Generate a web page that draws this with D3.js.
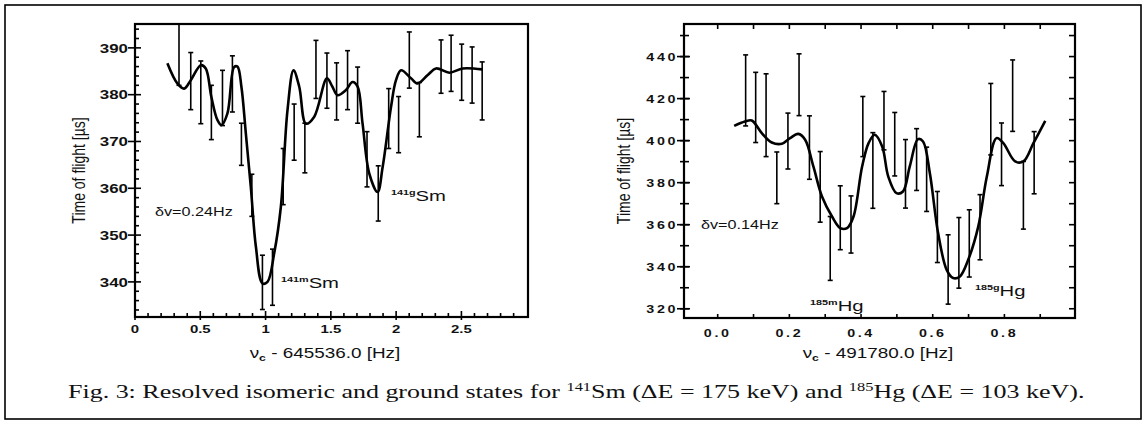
<!DOCTYPE html>
<html><head><meta charset="utf-8">
<script src="https://cdn.jsdelivr.net/npm/d3@7"></script>
<style>html,body{margin:0;padding:0;background:#fff;}svg{display:block;}</style>
</head><body>
<script>
// ---------- data ----------
const smX   = [0.337,0.427,0.504,0.585,0.670,0.746,0.815,0.895,0.976,1.053,1.135,1.219,1.301,1.386,1.470,1.544,1.628,1.705,1.777,1.863,1.943,2.019,2.101,2.178,2.344,2.421,2.502,2.582,2.659];
const smY   = [389,382.9,380.5,376.2,379.3,382.3,369.4,358.5,339.9,341,362.5,372,368.6,385.4,383,380.7,383.1,379.9,366.2,358.9,374.9,373.6,387.4,376.8,386,386.7,384.8,384.2,380.8];
const smErr = [7,6.1,6.7,5.8,5.9,6.0,4.5,4.5,5.8,6,6,6,5.3,6.2,5.9,6.1,6.3,6.0,5.9,5.9,6.4,6.0,6.0,5.8,5.7,6.0,6.0,6.0,6.2];
const smFitX = [0.248,0.324,0.376,0.427,0.504,0.542,0.585,0.631,0.662,0.708,0.759,0.785,0.815,0.849,0.887,0.926,0.976,1.015,1.066,1.117,1.168,1.214,1.258,1.309,1.373,1.470,1.510,1.551,1.616,1.666,1.705,1.743,1.794,1.858,1.897,1.961,1.999,2.038,2.114,2.165,2.242,2.306,2.408,2.510,2.659];
const smFitY = [386.7,382.4,381.3,383.1,386.3,385.6,379.5,374.6,373.5,376,385.9,386,381.7,371.7,360.3,347.5,339.7,340,346.1,356.0,376.7,385.2,381.7,373.8,375.3,383.5,381.8,379.9,381,382.7,381.7,373.8,363.2,359.2,364.6,377.4,383.1,385.2,383.5,382.4,384.2,385.6,384.7,385.6,385.4];

const hgX   = [0.078,0.106,0.135,0.165,0.196,0.227,0.256,0.286,0.314,0.342,0.372,0.405,0.433,0.464,0.494,0.524,0.555,0.583,0.613,0.643,0.673,0.702,0.732,0.762,0.792,0.823,0.853,0.883];
const hgY   = [423.9,415.8,412.1,382.3,399.8,426.6,396.7,378,348.7,363.3,360.1,406.7,385.8,409.5,398.3,384.2,391,381.6,358.9,338.7,346.6,351.1,358.8,410.2,393.5,421.4,374,389.5];
const hgErr = [16.9,16.7,19.7,12.3,13.3,14.7,15.1,16.8,15.2,15.2,13.6,14.3,18,13.9,15.1,16.3,14.7,15.3,16.9,16.5,16.8,16,15.5,17,14.9,17,16.1,14.8];
const hgFitX = [0.046,0.076,0.095,0.123,0.151,0.179,0.202,0.225,0.244,0.267,0.291,0.319,0.342,0.361,0.379,0.403,0.421,0.438,0.459,0.476,0.499,0.517,0.536,0.559,0.573,0.592,0.615,0.639,0.657,0.676,0.699,0.727,0.751,0.778,0.797,0.830,0.853,0.881,0.914];
const hgFitY = [407.0,409.1,409.6,403.6,399.1,398.5,401.2,403.2,400.4,387.7,373.4,363.9,358.4,358.4,363.9,387.7,398.8,402.8,397.2,382.9,375.0,375.8,387.7,400.7,399.6,384.5,356.0,338.5,334.6,335.4,343.3,359.1,382.9,401.2,398.8,390.1,390.1,398.8,409.4];

const smYTicks = [340,350,360,370,380,390];
const smXTicks = [0,0.5,1,1.5,2,2.5];
const smXTickLabels = ["0","0.5","1","1.5","2","2.5"];
const hgYTicks = [320,340,360,380,400,420,440];
const hgXTicks = [0.0,0.2,0.4,0.6,0.8];
const hgXTickLabels = ["0.0","0.2","0.4","0.6","0.8"];

// ---------- drawing ----------
const W = 1146, H = 432, SX = 1.35;
const svg = d3.select("body").append("svg").attr("width", W).attr("height", H);

svg.append("rect").attr("x",5).attr("y",5).attr("width",1136).attr("height",414)
  .attr("fill","none").attr("stroke","#000").attr("stroke-width",1.6);

function txt(g, x, y, str, o) {
  o = o || {};
  const t = g.append("text")
    .attr("transform", `translate(${x},${y}) scale(${o.sx||SX},1)`)
    .attr("text-anchor", o.anchor || "start")
    .attr("font-family", o.family || "'Liberation Sans', Arial, sans-serif")
    .attr("font-size", o.size || 13)
    .attr("font-weight", o.weight || "normal")
    .attr("fill", "#111");
  if (o.ls) t.attr("letter-spacing", o.ls);
  t.text(str);
  return t;
}

function panel(cfg) {
  const g = svg.append("g");
  const x = d3.scaleLinear().domain(cfg.xd).range([cfg.left, cfg.right]);
  const y = d3.scaleLinear().domain(cfg.yd).range([cfg.bottom, cfg.top]);
  const id = "clip" + cfg.name;
  svg.append("clipPath").attr("id", id).append("rect")
    .attr("x", cfg.left).attr("y", cfg.top)
    .attr("width", cfg.right - cfg.left).attr("height", cfg.bottom - cfg.top);

  g.append("rect").attr("x",cfg.left).attr("y",cfg.top)
    .attr("width",cfg.right-cfg.left).attr("height",cfg.bottom-cfg.top)
    .attr("fill","none").attr("stroke","#000").attr("stroke-width",2.2);

  const tk = g.append("g").attr("stroke","#000").attr("stroke-width",1.6);
  cfg.yMinor.forEach(v => {
    const yy = y(v);
    tk.append("line").attr("x1",cfg.left - cfg.yOutMinor).attr("x2",cfg.left + cfg.yInMinor).attr("y1",yy).attr("y2",yy);
    if (cfg.rightTicks) tk.append("line").attr("x1",cfg.right).attr("x2",cfg.right-6).attr("y1",yy).attr("y2",yy);
  });
  cfg.yTicks.forEach(v => {
    const yy = y(v);
    tk.append("line").attr("x1",cfg.left - 7).attr("x2",cfg.left + 6).attr("y1",yy).attr("y2",yy);
  });
  cfg.xMinor.forEach(v => {
    const xx = x(v);
    tk.append("line").attr("x1",xx).attr("x2",xx).attr("y1",cfg.bottom).attr("y2",cfg.bottom - 4);
    if (cfg.topTicks) tk.append("line").attr("x1",xx).attr("x2",xx).attr("y1",cfg.top).attr("y2",cfg.top + 5);
  });
  cfg.xTicks.forEach(v => {
    const xx = x(v);
    tk.append("line").attr("x1",xx).attr("x2",xx).attr("y1",cfg.bottom + cfg.xOutMajor).attr("y2",cfg.bottom - 6);
  });

  cfg.yTicks.forEach(v => {
    txt(g, cfg.left - cfg.yLabGap, y(v) + cfg.yLabSize*0.36, String(v),
      {anchor:"end", size:cfg.yLabSize, weight:"bold", ls:cfg.ls, sx:1.3});
  });
  cfg.xTicks.forEach((v,i) => {
    txt(g, x(v), cfg.xLabY, cfg.xLabels[i], {anchor:"middle", size:cfg.xLabSize, weight:"bold", ls:cfg.ls, sx:1.3});
  });

  g.append("text")
    .attr("transform", `translate(${cfg.yTitleX},${(cfg.top+cfg.bottom)/2}) rotate(-90) scale(1,${SX})`)
    .attr("text-anchor","middle").attr("font-family","'Liberation Sans', Arial, sans-serif")
    .attr("font-size",14).attr("fill","#111").text("Time of flight [µs]");
  const xt = txt(g, cfg.xTitleX, 358, "", {anchor:"middle", size:14});
  xt.append("tspan").text("ν");
  xt.append("tspan").attr("font-size",9).attr("dy",3).attr("font-weight","bold").text("c");
  xt.append("tspan").attr("dy",-3).text(" - " + cfg.xTitle + " [Hz]");

  const pg = g.append("g").attr("clip-path", `url(#${id})`);
  const bars = cfg.X.map((v,i) => ({x:v, y:cfg.Y[i], e:cfg.E[i]}));
  const eb = pg.append("g").attr("stroke","#000").attr("stroke-width",1.6);
  bars.forEach(d => {
    const xx = x(d.x), y1 = y(d.y + d.e), y2 = y(d.y - d.e);
    eb.append("line").attr("x1",xx).attr("x2",xx).attr("y1",y1).attr("y2",y2);
    eb.append("line").attr("x1",xx-2.5).attr("x2",xx+2.5).attr("y1",y1).attr("y2",y1);
    eb.append("line").attr("x1",xx-2.5).attr("x2",xx+2.5).attr("y1",y2).attr("y2",y2);
  });
  const fit = cfg.FX.map((v,i) => [v, cfg.FY[i]]);
  pg.append("path").datum(fit)
    .attr("d", d3.line().x(d=>x(d[0])).y(d=>y(d[1])).curve(d3.curveCatmullRom.alpha(0.5)))
    .attr("fill","none").attr("stroke","#000").attr("stroke-width",2.6).attr("stroke-linejoin","round");

  txt(g, cfg.dvX, cfg.dvY, "δv=" + cfg.dv + "Hz", {size:12});
  cfg.labels.forEach(l => {
    const t = txt(g, l.x, l.y, "", {size:15});
    t.append("tspan").attr("font-size",8).attr("font-weight","bold").attr("dy",-6).text(l.sup);
    t.append("tspan").attr("dy",6).text(l.el);
  });
  return {x, y};
}

panel({
  name:"sm", left:135, right:528, top:24, bottom:317,
  xd:[0,3.01], yd:[332.5,395.1],
  X:smX, Y:smY, E:smErr, FX:smFitX, FY:smFitY,
  yTicks:smYTicks, yMinor:d3.range(334,395,2).filter(v=>v%10!==0),
  xTicks:smXTicks, xMinor:d3.range(0,30).map(v=>v/10).filter((v,i)=>i%5!==0),
  xLabels:smXTickLabels, yOutMinor:0, yInMinor:4, xOutMajor:3,
  rightTicks:false, topTicks:false,
  yLabGap:7, yLabSize:13, xLabSize:11.5, xLabY:333, ls:null,
  yTitleX:85, xTitleX:325, xTitle:"645536.0",
  dvX:155, dvY:216, dv:"0.24",
  labels:[{x:281, y:288, sup:"141m", el:"Sm"},{x:391, y:201, sup:"141g", el:"Sm"}]
});

panel({
  name:"hg", left:684, right:1075, top:24, bottom:318,
  xd:[-0.094,0.997], yd:[315.6,455.5],
  X:hgX, Y:hgY, E:hgErr, FX:hgFitX, FY:hgFitY,
  yTicks:hgYTicks, yMinor:d3.range(320,451,10).filter(v=>v%20!==0).concat(d3.range(320,451,20)),
  xTicks:[], xMinor:d3.range(-0.0,1.0,0.1).map(v=>+v.toFixed(1)),
  xLabels:[], yOutMinor:4, yInMinor:5, xOutMajor:0,
  rightTicks:true, topTicks:true,
  yLabGap:6, yLabSize:11, xLabSize:11, xLabY:337, ls:"2px",
  yTitleX:630, xTitleX:878, xTitle:"491780.0",
  dvX:701, dvY:229, dv:"0.14",
  labels:[{x:810, y:311, sup:"185m", el:"Hg"},{x:975, y:296, sup:"185g", el:"Hg"}]
});

(function(){
  const x = d3.scaleLinear().domain([-0.094,0.997]).range([684,1075]);
  const g = svg.append("g");
  hgXTicks.forEach((v,i) => txt(g, x(v), 337, hgXTickLabels[i], {anchor:"middle", size:11, weight:"bold", ls:"2px", sx:1.3}));
})();

const cap = svg.append("text").attr("x",0).attr("y",0)
  .attr("font-family","'Liberation Serif','Times New Roman',serif").attr("font-size",19).attr("fill","#111");
cap.append("tspan").text("Fig. 3: Resolved isomeric and ground states for ");
cap.append("tspan").attr("font-size",12).attr("dy",-7).text("141");
cap.append("tspan").attr("dy",7).text("Sm (ΔE = 175 keV) and ");
cap.append("tspan").attr("font-size",12).attr("dy",-7).text("185");
cap.append("tspan").attr("dy",7).text("Hg (ΔE = 103 keV).");
const cw = cap.node().getBBox().width;
cap.attr("transform", `translate(68,398) scale(${1017/cw},1)`);
</script>
</body></html>
